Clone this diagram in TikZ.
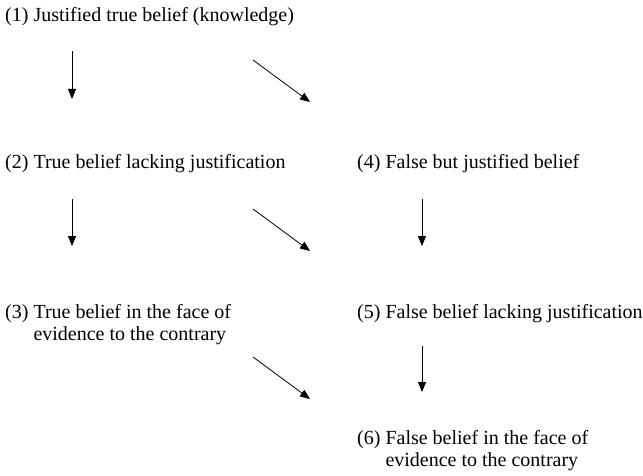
\documentclass[tikz,border=0pt]{standalone}
\usepackage{fontspec}
\setmainfont{Liberation Serif}
\usetikzlibrary{arrows.meta}

\newcommand{\beliefitem}[2]{\begin{tabular}[t]{@{}l@{\ }l@{}}(#1)&#2\end{tabular}}

\tikzset{
  belief/.style={anchor=base west, inner sep=0pt, font=\fontsize{20}{22}\selectfont},
  entail/.style={-{Triangle[length=10pt,width=8pt]}, line width=0.8pt}
}

\begin{document}
\begin{tikzpicture}[x=1pt,y=-1pt]
    \useasboundingbox (0,0) rectangle (643,476);
    \node[belief] (k1) at (5,22)  {\beliefitem{1}{Justified true belief (knowledge)}};
    \node[belief] (k2) at (5,169) {\beliefitem{2}{True belief lacking justification}};
    \node[belief] (k3) at (5,318) {\beliefitem{3}{True belief in the face of\\ & evidence to the contrary}};
    \node[belief] (k4) at (357,169) {\beliefitem{4}{False but justified belief}};
    \node[belief] (k5) at (357,318) {\beliefitem{5}{False belief lacking justification}};
    \node[belief] (k6) at (357,444) {\beliefitem{6}{False belief in the face of\\ & evidence to the contrary}};
    % arrow ends
    \coordinate (a1) at (72,51);   \coordinate (b1) at (72,99);
    \coordinate (a2) at (253,60);  \coordinate (b2) at (310,102);
    \coordinate (a3) at (72,199);  \coordinate (b3) at (72,246);
    \coordinate (a4) at (253,209); \coordinate (b4) at (310,251);
    \coordinate (a5) at (422,199); \coordinate (b5) at (422,246);
    \coordinate (a6) at (253,357); \coordinate (b6) at (310,399);
    \coordinate (a7) at (422,346); \coordinate (b7) at (422,392);
    \foreach \i in {1,...,7}
        \draw[entail] (a\i) -- (b\i);
\end{tikzpicture}
\end{document}
